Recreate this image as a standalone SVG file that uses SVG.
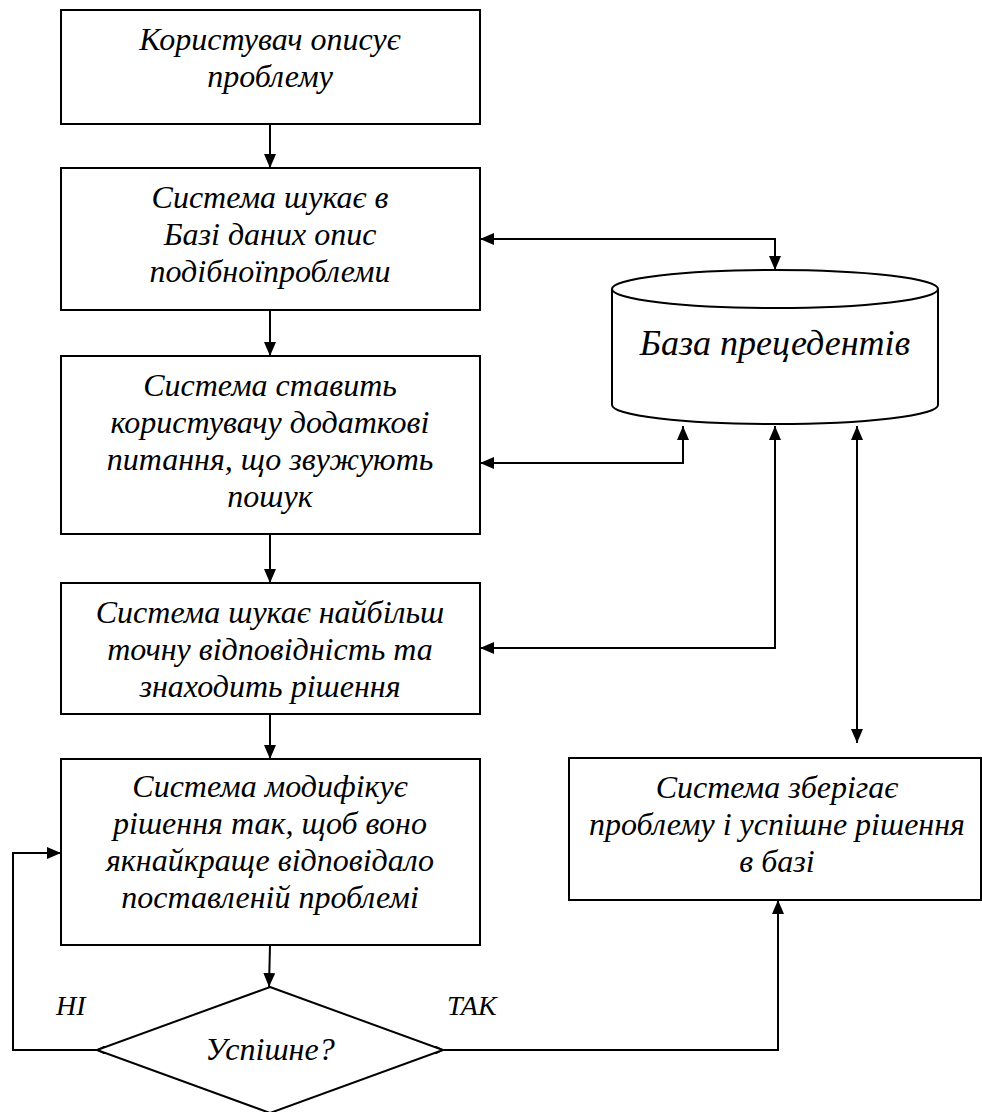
<svg xmlns="http://www.w3.org/2000/svg" width="982" height="1112" viewBox="0 0 982 1112">
  <defs>
    <marker id="arrow" viewBox="0 0 14 12" refX="14" refY="6" markerWidth="14" markerHeight="12" markerUnits="userSpaceOnUse" orient="auto-start-reverse">
      <path d="M0,0 L14,6 L0,12 Z" fill="#000000"/>
    </marker>
    <marker id="open" viewBox="0 0 8 8" refX="8" refY="4" markerWidth="8" markerHeight="8" markerUnits="userSpaceOnUse" orient="auto">
      <path d="M0,0 L8,4 L0,8" fill="none" stroke="#000000" stroke-width="1.2"/>
    </marker>
  </defs>
  <rect width="982" height="1112" fill="#ffffff"/>

  <g id="connectors" fill="none" stroke="#000000" stroke-width="2">
    <!-- main flow down the left column -->
    <line x1="270" y1="124" x2="270" y2="168" marker-end="url(#arrow)"/>
    <line x1="270" y1="310" x2="270" y2="356" marker-end="url(#arrow)"/>
    <line x1="270" y1="534" x2="270" y2="583" marker-end="url(#arrow)"/>
    <line x1="270" y1="714" x2="270" y2="759" marker-end="url(#arrow)"/>
    <line x1="270" y1="945" x2="269" y2="987" marker-end="url(#arrow)"/>
    <!-- links between the steps and the case base -->
    <polyline points="480,239 775,239 775,270" marker-start="url(#arrow)" marker-end="url(#arrow)"/>
    <polyline points="480,463 683,463 683,426" marker-start="url(#arrow)" marker-end="url(#arrow)"/>
    <polyline points="480,648 775,648 775,426" marker-start="url(#arrow)" marker-end="url(#arrow)"/>
    <line x1="857" y1="426" x2="857" y2="743" marker-start="url(#arrow)" marker-end="url(#arrow)"/>
    <!-- decision branches -->
    <polyline points="97,1050 13,1050 13,853 61,853" marker-end="url(#arrow)"/>
    <polyline points="443,1050 778,1050 778,900" marker-end="url(#arrow)"/>
    <line x1="110" y1="1050" x2="97" y2="1050" marker-end="url(#open)"/>
    <line x1="430" y1="1050" x2="443" y2="1050" marker-end="url(#open)"/>
  </g>

  <!-- shapes -->
  <g fill="#ffffff" stroke="#000000" stroke-width="2">
    <rect id="n1-shape" x="61" y="10" width="419" height="114"/>
    <rect id="n2-shape" x="61" y="168" width="419" height="142"/>
    <rect id="n3-shape" x="61" y="356" width="419" height="178"/>
    <rect id="n4-shape" x="61" y="583" width="419" height="131"/>
    <rect id="n5-shape" x="61" y="759" width="419" height="186"/>
    <path id="db-shape" d="M612,289 L612,405 A163,19 0 0 0 938,405 L938,289 A163,19 0 0 0 612,289 Z"/>
    <path d="M612,289 A163,19 0 0 0 938,289" fill="none"/>
    <rect id="save-shape" x="569" y="758" width="412" height="142"/>
    <polygon id="decision-shape" points="270,987 443,1050 270,1113 97,1050"/>
  </g>

  <g id="n1">
    <text x="270" y="50" font-family="Liberation Serif" font-style="italic" font-size="32" text-anchor="middle">Користувач описує</text>
    <text x="270" y="87" font-family="Liberation Serif" font-style="italic" font-size="32" text-anchor="middle">проблему</text>
  </g>
  <g id="n2">
    <text x="270" y="208" font-family="Liberation Serif" font-style="italic" font-size="32" text-anchor="middle">Система шукає в</text>
    <text x="270" y="245" font-family="Liberation Serif" font-style="italic" font-size="32" text-anchor="middle">Базі даних опис</text>
    <text x="270" y="282" font-family="Liberation Serif" font-style="italic" font-size="32" text-anchor="middle">подібноїпроблеми</text>
  </g>
  <g id="n3">
    <text x="270" y="396" font-family="Liberation Serif" font-style="italic" font-size="32" text-anchor="middle">Система ставить</text>
    <text x="270" y="433" font-family="Liberation Serif" font-style="italic" font-size="32" text-anchor="middle">користувачу додаткові</text>
    <text x="270" y="470" font-family="Liberation Serif" font-style="italic" font-size="32" text-anchor="middle">питання, що звужують</text>
    <text x="270" y="507" font-family="Liberation Serif" font-style="italic" font-size="32" text-anchor="middle">пошук</text>
  </g>
  <g id="n4">
    <text x="270" y="623" font-family="Liberation Serif" font-style="italic" font-size="32" text-anchor="middle">Система шукає найбільш</text>
    <text x="270" y="660" font-family="Liberation Serif" font-style="italic" font-size="32" text-anchor="middle">точну відповідність та</text>
    <text x="270" y="697" font-family="Liberation Serif" font-style="italic" font-size="32" text-anchor="middle">знаходить рішення</text>
  </g>
  <g id="n5">
    <text x="270" y="797" font-family="Liberation Serif" font-style="italic" font-size="32" text-anchor="middle">Система модифікує</text>
    <text x="270" y="834" font-family="Liberation Serif" font-style="italic" font-size="32" text-anchor="middle">рішення так, щоб воно</text>
    <text x="270" y="871" font-family="Liberation Serif" font-style="italic" font-size="32" text-anchor="middle">якнайкраще відповідало</text>
    <text x="270" y="908" font-family="Liberation Serif" font-style="italic" font-size="32" text-anchor="middle">поставленій проблемі</text>
  </g>
  <g id="db">
    <text x="775" y="355" font-family="Liberation Serif" font-style="italic" font-size="36" text-anchor="middle">База прецедентів</text>
  </g>
  <g id="save">
    <text x="777" y="798" font-family="Liberation Serif" font-style="italic" font-size="32" text-anchor="middle">Система зберігає</text>
    <text x="777" y="835" font-family="Liberation Serif" font-style="italic" font-size="32" text-anchor="middle">проблему і успішне рішення</text>
    <text x="777" y="872" font-family="Liberation Serif" font-style="italic" font-size="32" text-anchor="middle">в базі</text>
  </g>
  <g id="decision">
    <text x="270" y="1060" font-family="Liberation Serif" font-style="italic" font-size="32" text-anchor="middle">Успішне?</text>
  </g>
  <g id="labels">
    <text x="56" y="1015" font-family="Liberation Serif" font-style="italic" font-size="28">НІ</text>
    <text x="447" y="1015" font-family="Liberation Serif" font-style="italic" font-size="28">ТАК</text>
  </g>
</svg>
